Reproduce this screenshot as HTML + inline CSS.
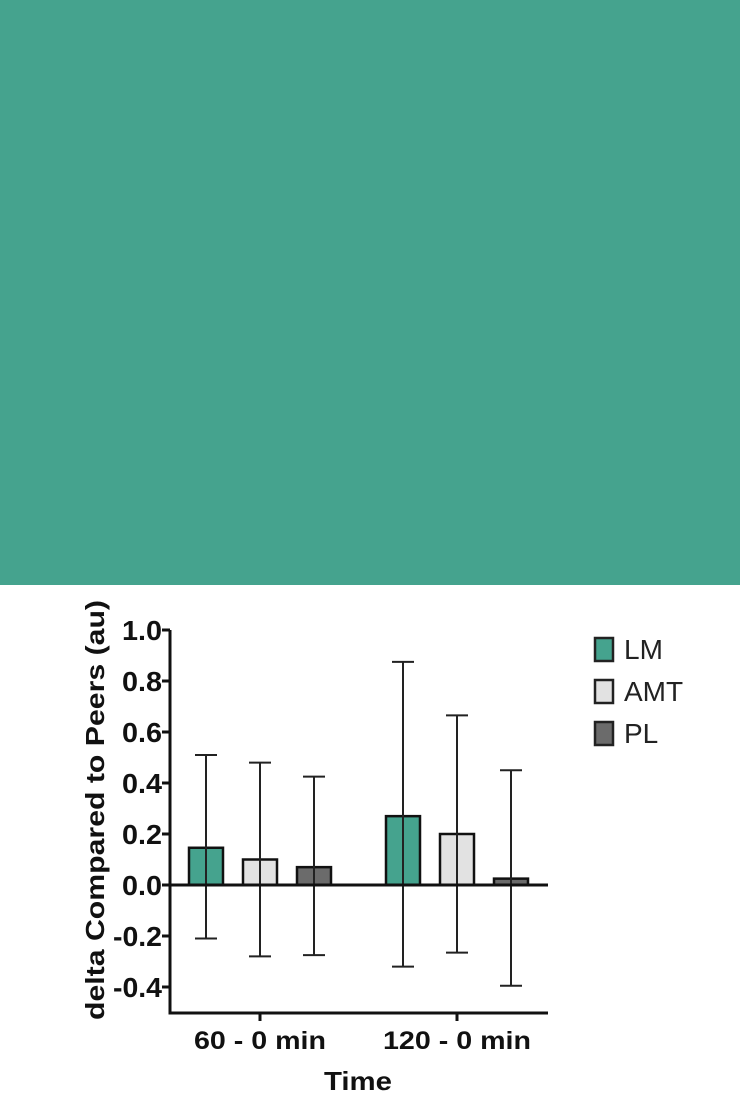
<!DOCTYPE html>
<html><head><meta charset="utf-8"><style>
html,body{margin:0;padding:0;background:#fff;}
svg text{font-family:"Liberation Sans",Arial,sans-serif;}
</style></head><body>
<svg width="740" height="1100" xmlns="http://www.w3.org/2000/svg">
<rect x="0" y="0" width="740" height="585" fill="#45a38e"/>
<g id="plot"></g>
<g id="legend"></g>
</svg>
<script>
const categories = ["60 - 0 min", "120 - 0 min"];
const seriesNames = ["LM", "AMT", "PL"];
const means = [[0.146, 0.27], [0.10, 0.20], [0.07, 0.025]];
const upper = [[0.51, 0.875], [0.48, 0.665], [0.425, 0.45]];
const lower = [[-0.21, -0.32], [-0.28, -0.265], [-0.275, -0.395]];
const yTicks = [1.0, 0.8, 0.6, 0.4, 0.2, 0.0, -0.2, -0.4];
const colors = ["#45a38e", "#e2e2e2", "#6b6b6b"];

const NS = "http://www.w3.org/2000/svg";
const plot = document.getElementById('plot');
const legend = document.getElementById('legend');
const y0 = 885, pxPer = 255, axisX = 170, axisRight = 548, axisBottom = 1013;
const yScale = v => y0 - v * pxPer;
const groupCenters = [260, 457];
const barW = 34, barStep = 54;
const xBar = (g, s) => groupCenters[g] + (s - 1) * barStep - barW / 2;

function mk(tag, attrs, parent) {
  const e = document.createElementNS(NS, tag);
  for (const k in attrs) e.setAttribute(k, attrs[k]);
  parent.appendChild(e);
  return e;
}

for (let s = 0; s < seriesNames.length; s++) {
  for (let g = 0; g < categories.length; g++) {
    const v = means[s][g];
    const x = xBar(g, s);
    const top = Math.min(yScale(v), y0), h = Math.abs(yScale(v) - y0);
    const r = mk('rect', {x: x, y: top, width: barW, height: Math.max(h, 2), fill: colors[s], stroke: '#111', 'stroke-width': 2.5}, plot);
    
    
    const cx = x + barW / 2;
    const el = mk('path', {d: `M${cx},${yScale(upper[s][g])}V${yScale(lower[s][g])}M${cx-11},${yScale(upper[s][g])}h22M${cx-11},${yScale(lower[s][g])}h22`, stroke: '#222', 'stroke-width': 2, fill: 'none'}, plot);
    
    
  }
}

const yAxis = mk('path', {d: `M${axisX},${yScale(1.0)}V${axisBottom}H${axisRight}`, stroke: '#111', 'stroke-width': 3, fill: 'none'}, plot);


const zl = mk('line', {x1: axisX, x2: axisRight, y1: y0, y2: y0, stroke: '#111', 'stroke-width': 3}, plot);



yTicks.forEach(t => {
  const y = yScale(t);
  const tk = mk('line', {x1: axisX - 8, x2: axisX, y1: y, y2: y, stroke: '#111', 'stroke-width': 3}, plot);
  
  
  const tx = mk('text', {x: axisX - 8, y: y + 10, 'text-anchor': 'end', 'font-size': 28, 'font-weight': 'bold', fill: '#111', textLength: t < 0 ? 49 : 40, lengthAdjust: 'spacingAndGlyphs'}, plot);
  tx.textContent = t.toFixed(1);
  
  
});

categories.forEach((c, g) => {
  const x = groupCenters[g];
  const tk = mk('line', {x1: x, x2: x, y1: axisBottom, y2: axisBottom + 8, stroke: '#111', 'stroke-width': 3}, plot);
  
  
  const tx = mk('text', {x: x, y: 1049, 'text-anchor': 'middle', 'font-size': 25, 'font-weight': 'bold', fill: '#111', textLength: g === 0 ? 132 : 148, lengthAdjust: 'spacingAndGlyphs'}, plot);
  tx.textContent = c;
  
  
});

const xt = mk('text', {x: 358, y: 1090, 'text-anchor': 'middle', 'font-size': 26, 'font-weight': 'bold', fill: '#111', textLength: 68, lengthAdjust: 'spacingAndGlyphs'}, plot);
xt.textContent = 'Time';



const yt = mk('text', {x: 0, y: 0, transform: 'translate(104,810) rotate(-90)', 'text-anchor': 'middle', 'font-size': 26, 'font-weight': 'bold', fill: '#111', textLength: 420, lengthAdjust: 'spacingAndGlyphs'}, plot);
yt.textContent = 'delta Compared to Peers (au)';



seriesNames.forEach((n, i) => {
  const top = 638 + i * 42;
  const b = mk('rect', {x: 595, y: top, width: 18, height: 23, fill: colors[i], stroke: '#222', 'stroke-width': 2.5}, legend);
  
  
  const t = mk('text', {x: 624, y: top + 21, 'font-size': 28, fill: '#222'}, legend);
  t.textContent = n;
  
  
});
</script>
</body></html>
